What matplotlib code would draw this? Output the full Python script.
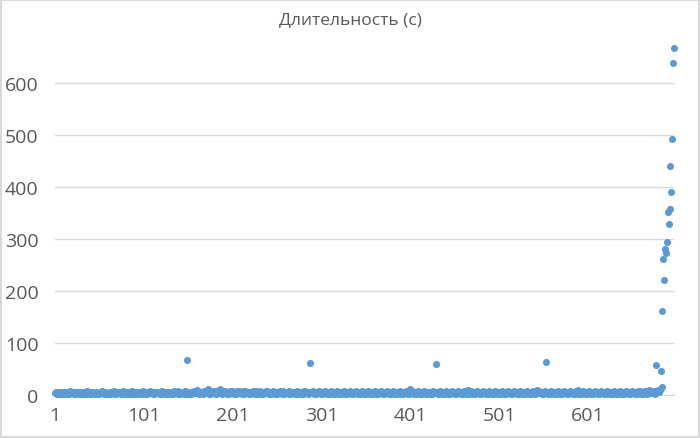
import matplotlib.pyplot as plt
import numpy as np

# значения "Длительность (с)" по номеру записи, оценены по картинке
base = (
    "3524163425 2631452736 4215364251 3642517324 6153426134 2547316243"
    "3162547312 4635214736 2514362741 5326143527 3614253746 1524363415"
    "2736415263 4152736418 5263417325 6142537463 2815364275 3461527348"
    "5273641528 3746152837 4615283746 5172836415 2637418526 3714265387"
    "4162537416 2537461825 3641725364 1527364152 8374615263 7415263741"
    "5263741526 3741526374 1526374152 6374152637 4152637415 2637415263"
    "7415263741 5263741526 3741526374 1526374152 6374152637 4152637415"
    "3625147362 5147362514 7362514736 2514736251 4736251473 6251473625"
    "1473625147 3625147362 5147362514 7362514736 2514736251 4736251473"
    "6251473625 1473625147 3625147362 5147362514 7362514736 2514736251"
    "4736251473 6251473625 1473625147 3625147362 5147362514 7362514736"
    "2514736251 4736251473 6251"
)
spikes = {150: 67, 161: 10, 173: 12, 187: 11, 288: 62, 401: 11, 430: 60,
          466: 10, 544: 10, 554: 63, 590: 9, 660: 8, 670: 9, 675: 8,
          678: 58, 680: 9, 682: 10, 683: 46, 684: 15}
tail = [162, 262, 221, 281, 273, 295, 352, 329, 357, 441, 391, 492, 638, 667]

vals = [int(c) for c in base.replace(" ", "")][:684]
for k, v in spikes.items():
    vals[k - 1] = v
vals = vals + tail
x = np.arange(1, len(vals) + 1)

xticks = [1, 101, 201, 301, 401, 501, 601]
yticks = [0, 100, 200, 300, 400, 500, 600]

plt.rcParams['font.family'] = ['Open Sans', 'DejaVu Sans']
fig = plt.figure(figsize=(7, 4.39), dpi=100)
fig.patch.set_edgecolor('#D9D9D9')
fig.patch.set_linewidth(1.5)
ax = fig.add_axes([55/700, 1 - 396/439, (674 - 55)/700, (396 - 37)/439])

ax.scatter(x, vals, s=26, color='#5B9BD5', linewidths=0, zorder=3, clip_on=False)

ax.set_xlim(1, len(vals))
ax.set_ylim(0, 690)
ax.set_xticks(xticks)
ax.set_yticks(yticks)
ax.grid(axis='y', color='#D9D9D9', linewidth=1)
ax.set_axisbelow(True)
for s in ['top', 'right', 'left']:
    ax.spines[s].set_visible(False)
ax.spines['bottom'].set_color('#D9D9D9')
ax.tick_params(length=0, labelsize=14, labelcolor='#595959', pad=12)
ax.tick_params(axis='x', pad=8)
fig.text(350/700, 1 - 20/439, 'Длительность (с)', ha='center', va='center',
         fontsize=12.5, color='#595959')

plt.savefig('out.png', dpi=100)
